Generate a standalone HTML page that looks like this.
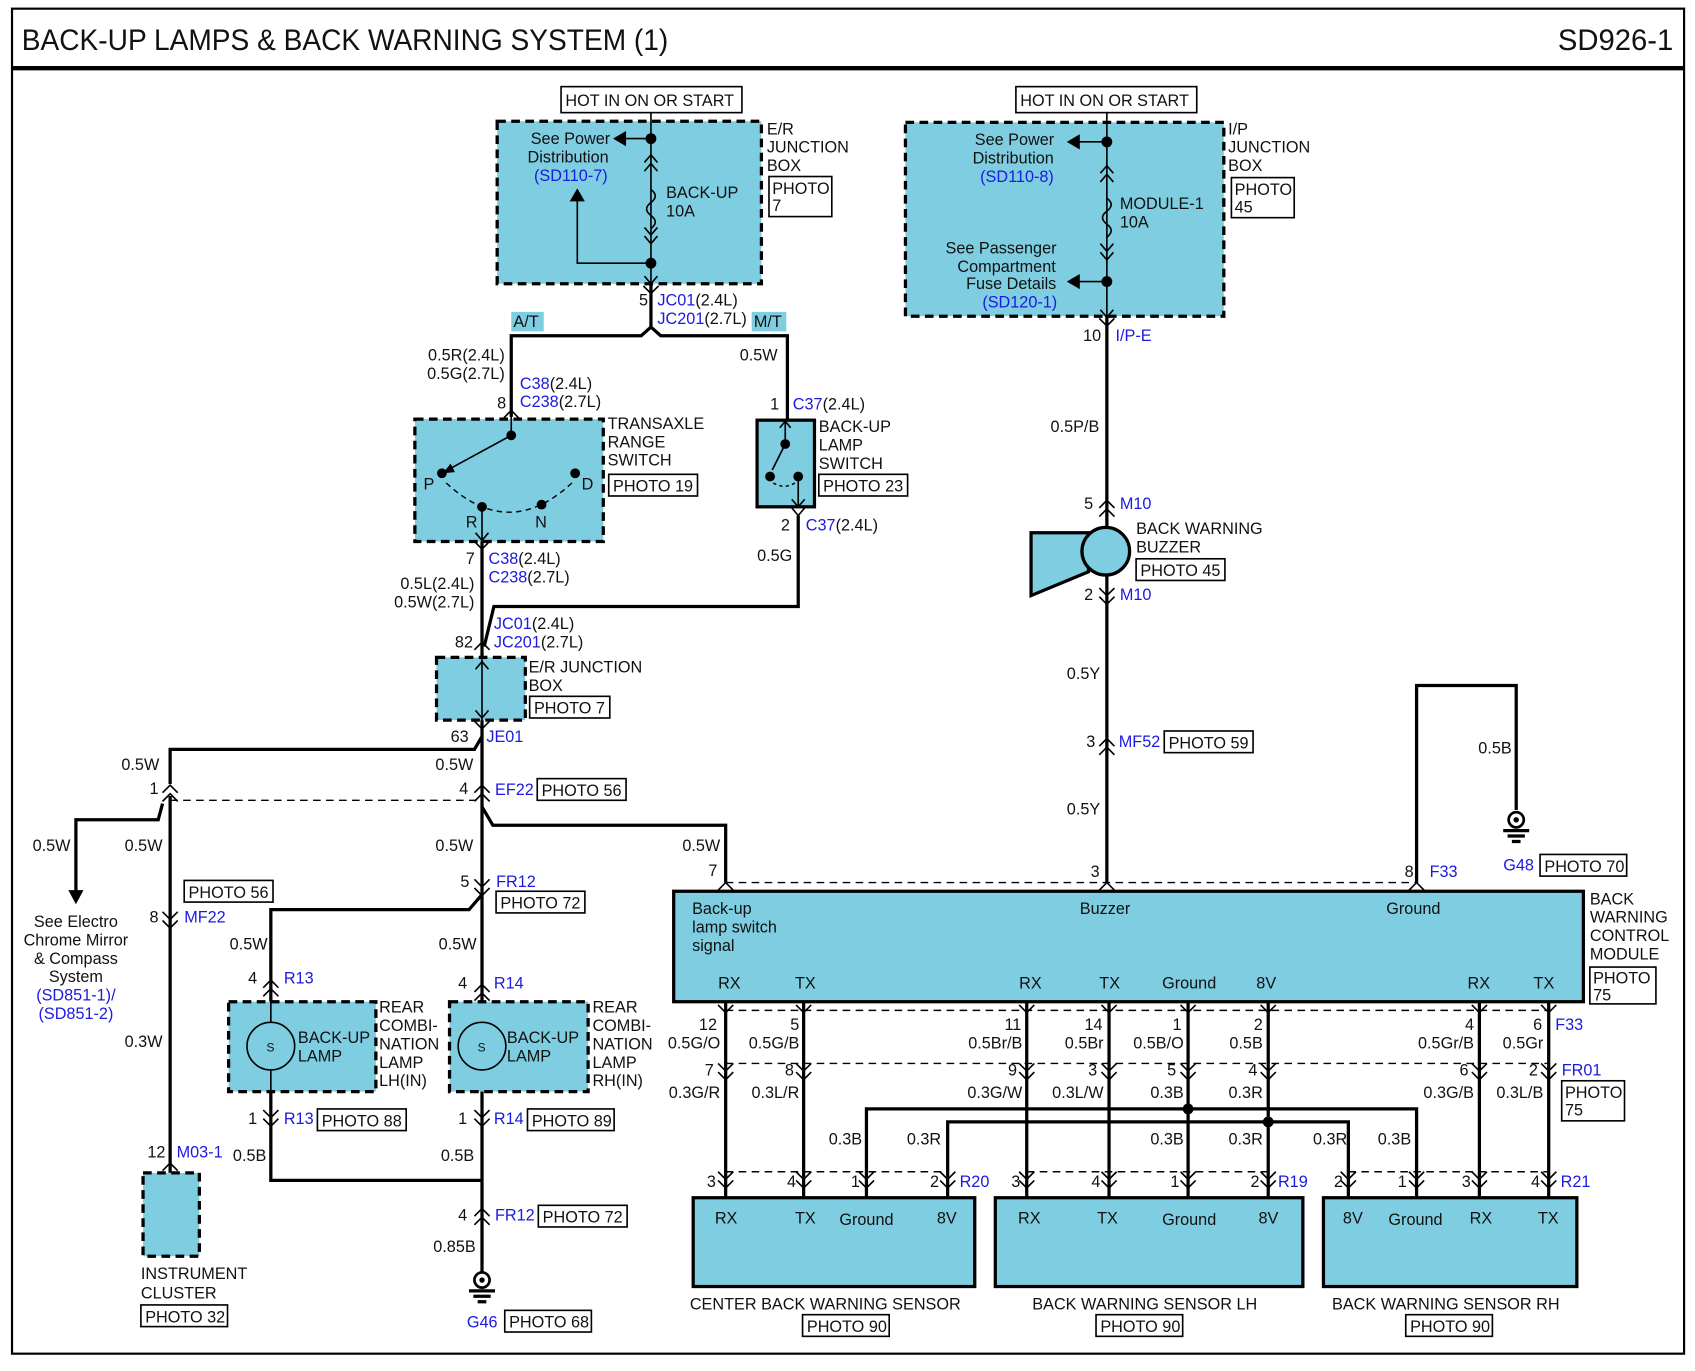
<!DOCTYPE html>
<html><head><meta charset="utf-8"><style>
html,body{margin:0;padding:0;background:#fff}
svg{display:block}
text{font-family:"Liberation Sans",sans-serif;font-size:15px;fill:#111}
.b{fill:#1a1ae0}
.w{stroke:#000;stroke-width:3;fill:none}
.t{stroke:#000;stroke-width:1.5;fill:none}
.d{stroke:#000;stroke-width:1.3;fill:none;stroke-dasharray:7 5}
.box{fill:#7ecde0;stroke:#000;stroke-width:3;stroke-dasharray:8 5}
.sb{fill:#7ecde0;stroke:#000;stroke-width:3}
.p{fill:#fff;stroke:#000;stroke-width:1.5}
.c{stroke:#000;stroke-width:1.5;fill:none}
</style></head><body>
<svg width="1695" height="1371" viewBox="0 0 1565 1266" xmlns="http://www.w3.org/2000/svg">
<rect x="11" y="8" width="1544" height="1242" fill="none" stroke="#000" stroke-width="2"/>
<line x1="11" y1="63" x2="1555" y2="63" stroke="#000" stroke-width="4"/>
<text x="20" y="46" style="font-size:27px" textLength="597" lengthAdjust="spacingAndGlyphs">BACK-UP LAMPS &amp; BACK WARNING SYSTEM (1)</text>
<text x="1545" y="46" text-anchor="end" style="font-size:27px">SD926-1</text>

<!-- E/R junction box top -->
<rect class="p" x="518" y="80" width="167" height="24"/><text x="522" y="98">HOT IN ON OR START</text>
<rect class="box" x="459" y="112" width="244" height="150"/>
<line class="t" x1="601" y1="104" x2="601" y2="262"/>
<path class="c" d="M601 175 q8 6 0 12 q-8 6 0 12 q8 6 0 12"/>
<circle cx="601" cy="128" r="5"/><circle cx="601" cy="243" r="5"/>
<path class="t" d="M601 128 H575"/><path d="M566 128 L578 121 L578 135Z"/>
<path class="t" d="M601 243 H533 V185"/><path d="M533 174 L526 186 L540 186Z"/>
<path class="c" d="M595 150 l6 -7 l6 7 M595 158 l6 -7 l6 7 M595 210 l6 7 l6 -7 M595 218 l6 7 l6 -7 M595 255 l6 7 l6 -7"/>
<text x="490" y="133">See Power</text><text x="487" y="150">Distribution</text><text x="493" y="167" class="b">(SD110-7)</text>
<text x="615" y="183">BACK-UP</text><text x="615" y="200">10A</text>
<text x="708" y="124">E/R</text><text x="708" y="141">JUNCTION</text><text x="708" y="158">BOX</text>
<rect class="p" x="710" y="163" width="58" height="37"/><text x="713" y="179">PHOTO</text><text x="713" y="195">7</text>

<path class="w" d="M601 262 V302 M472 385 V310 H592 L601 302 L610 310 H727 V388"/>
<path class="c" d="M594 264 l7 7 l7 -7"/>
<rect x="472" y="288" width="30" height="18" fill="#7ecde0"/><text x="474" y="302">A/T</text>
<rect x="694" y="288" width="32" height="18" fill="#7ecde0"/><text x="696" y="302">M/T</text>
<text x="590" y="282">5</text><text x="607" y="282"><tspan class="b">JC01</tspan>(2.4L)</text>
<text x="607" y="299"><tspan class="b">JC201</tspan>(2.7L)</text>
<text x="466" y="333" text-anchor="end">0.5R(2.4L)</text><text x="466" y="350" text-anchor="end">0.5G(2.7L)</text>
<text x="480" y="359"><tspan class="b">C38</tspan>(2.4L)</text><text x="459" y="377">8</text><text x="480" y="376"><tspan class="b">C238</tspan>(2.7L)</text>
<text x="683" y="333">0.5W</text>
<text x="711" y="378">1</text><text x="732" y="378"><tspan class="b">C37</tspan>(2.4L)</text>

<!-- transaxle switch -->
<rect class="box" x="383" y="387" width="174" height="113"/>
<path class="c" d="M465 386 l7 -7 l7 7"/>
<line class="t" x1="472" y1="380" x2="472" y2="402"/>
<circle cx="472" cy="402" r="4.5"/><circle cx="408" cy="437" r="4.5"/><circle cx="445" cy="468" r="4.5"/><circle cx="500" cy="466" r="4.5"/><circle cx="531" cy="437" r="4.5"/>
<line class="t" x1="472" y1="402" x2="415" y2="433"/><path d="M409 437 L416 428 L420 436Z"/>
<path class="d" style="stroke-dasharray:5 4" d="M412 446 Q470 500 528 446"/>
<line class="t" x1="445" y1="468" x2="445" y2="500"/><path class="c" d="M439 492 l6 7 l6 -7"/>
<text x="391" y="452">P</text><text x="537" y="452">D</text><text x="430" y="487">R</text><text x="494" y="487">N</text>
<text x="561" y="396">TRANSAXLE</text><text x="561" y="413">RANGE</text><text x="561" y="430">SWITCH</text>
<rect class="p" x="562" y="438" width="82" height="20"/><text x="566" y="454">PHOTO 19</text>

<!-- backup lamp switch -->
<rect class="sb" x="699" y="388" width="53" height="80"/>
<line class="t" x1="725" y1="390" x2="725" y2="410"/><circle cx="725" cy="410" r="4.5"/><circle cx="711" cy="440" r="4.5"/><circle cx="737" cy="440" r="4.5"/>
<line class="t" x1="725" y1="410" x2="713" y2="434"/>
<path class="d" style="stroke-dasharray:3 3" d="M714 446 Q724 452 734 446"/>
<line class="t" x1="737" y1="440" x2="737" y2="468"/>
<path class="c" d="M731 461 l6 7 l6 -7 M731 469 l6 7 l6 -7 M720 395 l5 -6 l5 6"/>
<text x="756" y="399">BACK-UP</text><text x="756" y="416">LAMP</text><text x="756" y="433">SWITCH</text>
<rect class="p" x="756" y="438" width="82" height="20"/><text x="760" y="454">PHOTO 23</text>
<text x="721" y="490">2</text><text x="744" y="490"><tspan class="b">C37</tspan>(2.4L)</text>
<text x="699" y="518">0.5G</text>
<path class="w" d="M737 476 V560 H456 L447 597"/>

<path class="w" d="M445 500 V607"/>
<path class="c" d="M438 500 l7 7 l7 -7 M438 600 l7 -7 l7 7"/>
<text x="430" y="521">7</text><text x="451" y="521"><tspan class="b">C38</tspan>(2.4L)</text><text x="451" y="538"><tspan class="b">C238</tspan>(2.7L)</text>
<text x="438" y="544" text-anchor="end">0.5L(2.4L)</text><text x="438" y="561" text-anchor="end">0.5W(2.7L)</text>
<text x="456" y="581"><tspan class="b">JC01</tspan>(2.4L)</text><text x="420" y="598">82</text><text x="456" y="598"><tspan class="b">JC201</tspan>(2.7L)</text>

<rect class="box" x="403" y="607" width="82" height="58"/>
<line class="t" x1="445" y1="607" x2="445" y2="665"/>
<path class="c" d="M439 618 l6 -7 l6 7 M439 656 l6 7 l6 -7 M438 666 l7 7 l7 -7"/>
<text x="488" y="621">E/R JUNCTION</text><text x="488" y="638">BOX</text>
<rect class="p" x="489" y="643" width="74" height="20"/><text x="493" y="659">PHOTO 7</text>
<text x="416" y="685">63</text><text x="449" y="685" class="b">JE01</text>

<!-- lower left wiring -->
<path class="w" d="M445 665 V1175 M157 724 V692 H438 L445 680"/>
<path class="w" d="M150 742 L146 757 H70 V825"/><path d="M70 835 L63 822 L77 822Z"/>
<path class="w" d="M157 735 V1083"/>
<path class="c" d="M150 732 l7 -7 l7 7 M150 740 l7 -7 l7 7 M438 732 l7 -7 l7 7 M438 740 l7 -7 l7 7"/>
<path class="d" d="M157 739 H445"/>
<text x="112" y="711">0.5W</text><text x="402" y="711">0.5W</text>
<text x="138" y="733">1</text><text x="424" y="733">4</text><text x="457" y="734" class="b">EF22</text>
<rect class="p" x="496" y="719" width="82" height="20"/><text x="500" y="735">PHOTO 56</text>
<path class="w" d="M445 745 L455 762 H670 V815"/>
<text x="30" y="786">0.5W</text><text x="115" y="786">0.5W</text><text x="402" y="786">0.5W</text><text x="630" y="786">0.5W</text>
<text x="654" y="809">7</text>
<rect class="p" x="170" y="813" width="82" height="20"/><text x="174" y="829">PHOTO 56</text>
<path class="c" d="M150 842 l7 7 l7 -7 M150 850 l7 7 l7 -7 M438 812 l7 7 l7 -7 M438 820 l7 7 l7 -7"/>
<text x="138" y="852">8</text><text x="170" y="852" class="b">MF22</text>
<text x="425" y="819">5</text><text x="458" y="819" class="b">FR12</text>
<rect class="p" x="458" y="823" width="82" height="20"/><text x="462" y="839">PHOTO 72</text>
<g text-anchor="middle"><text x="70" y="856">See Electro</text><text x="70" y="873">Chrome Mirror</text><text x="70" y="890">&amp; Compass</text><text x="70" y="907">System</text><text x="70" y="924" class="b">(SD851-1)/</text><text x="70" y="941" class="b">(SD851-2)</text></g>
<text x="115" y="967">0.3W</text>
<path class="w" d="M445 826 L433 840 H250 V925"/>
<text x="212" y="877">0.5W</text><text x="405" y="877">0.5W</text>
<path class="c" d="M243 912 l7 -7 l7 7 M243 920 l7 -7 l7 7 M438 916 l7 -7 l7 7 M438 924 l7 -7 l7 7"/>
<text x="229" y="908">4</text><text x="262" y="908" class="b">R13</text><text x="423" y="913">4</text><text x="456" y="913" class="b">R14</text>

<rect class="box" x="211" y="925" width="136" height="83"/>
<circle cx="250" cy="966" r="22" fill="none" stroke="#000" stroke-width="1.5"/><line class="t" x1="250" y1="925" x2="250" y2="944"/><line class="t" x1="250" y1="988" x2="250" y2="1008"/>
<text x="246" y="971" style="font-size:11px">S</text>
<text x="275" y="963">BACK-UP</text><text x="275" y="980">LAMP</text>
<text x="350" y="935">REAR</text><text x="350" y="952">COMBI-</text><text x="350" y="969">NATION</text><text x="350" y="986">LAMP</text><text x="350" y="1003">LH(IN)</text>
<rect class="box" x="415" y="925" width="128" height="83"/>
<circle cx="445" cy="966" r="22" fill="none" stroke="#000" stroke-width="1.5"/>
<text x="441" y="971" style="font-size:11px">S</text>
<text x="468" y="963">BACK-UP</text><text x="468" y="980">LAMP</text>
<text x="547" y="935">REAR</text><text x="547" y="952">COMBI-</text><text x="547" y="969">NATION</text><text x="547" y="986">LAMP</text><text x="547" y="1003">RH(IN)</text>
<path class="c" d="M243 1025 l7 7 l7 -7 M243 1033 l7 7 l7 -7 M438 1025 l7 7 l7 -7 M438 1033 l7 7 l7 -7"/>
<text x="229" y="1038">1</text><text x="262" y="1038" class="b">R13</text>
<rect class="p" x="293" y="1024" width="82" height="20"/><text x="297" y="1040">PHOTO 88</text>
<text x="423" y="1038">1</text><text x="456" y="1038" class="b">R14</text>
<rect class="p" x="487" y="1024" width="80" height="20"/><text x="491" y="1040">PHOTO 89</text>
<path class="w" d="M250 1008 V1090 H445"/>
<text x="215" y="1072">0.5B</text><text x="407" y="1072">0.5B</text>
<text x="136" y="1069">12</text><text x="163" y="1069" class="b">M03-1</text>
<path class="c" d="M150 1081 l7 -7 l7 7"/>
<rect class="box" x="132" y="1083" width="52" height="77"/>
<text x="130" y="1181">INSTRUMENT</text><text x="130" y="1199">CLUSTER</text>
<rect class="p" x="130" y="1205" width="80" height="20"/><text x="134" y="1221">PHOTO 32</text>
<path class="c" d="M438 1123 l7 -7 l7 7 M438 1131 l7 -7 l7 7"/>
<text x="423" y="1127">4</text><text x="457" y="1127" class="b">FR12</text>
<rect class="p" x="497" y="1113" width="82" height="20"/><text x="501" y="1129">PHOTO 72</text>
<text x="400" y="1156">0.85B</text>
<circle cx="445" cy="1182" r="7" fill="none" stroke="#000" stroke-width="2.5"/><circle cx="445" cy="1182" r="2.5"/>
<path class="w" d="M433 1192 H457 M437 1197 H453 M441 1202 H449"/>
<text x="431" y="1226" class="b">G46</text>
<rect class="p" x="466" y="1210" width="80" height="20"/><text x="470" y="1226">PHOTO 68</text>

<!-- I/P junction box -->
<rect class="p" x="938" y="80" width="167" height="24"/><text x="942" y="98">HOT IN ON OR START</text>
<rect class="box" x="836" y="113" width="294" height="179"/>
<line class="t" x1="1022" y1="104" x2="1022" y2="292"/>
<path class="c" d="M1022 183 q8 6 0 12 q-8 6 0 12 q8 6 0 12"/>
<circle cx="1022" cy="131" r="5"/><circle cx="1022" cy="260" r="5"/>
<path class="t" d="M1022 131 H995 M1022 260 H995"/><path d="M985 131 L997 124 L997 138Z M985 260 L997 253 L997 267Z"/>
<path class="c" d="M1016 160 l6 -7 l6 7 M1016 168 l6 -7 l6 7 M1016 225 l6 7 l6 -7 M1016 233 l6 7 l6 -7 M1016 286 l6 7 l6 -7"/>
<text x="900" y="134">See Power</text><text x="898" y="151">Distribution</text><text x="905" y="168" class="b">(SD110-8)</text>
<text x="1034" y="193">MODULE-1</text><text x="1034" y="210">10A</text>
<text x="873" y="234">See Passenger</text><text x="884" y="251">Compartment</text><text x="892" y="267">Fuse Details</text><text x="907" y="284" class="b">(SD120-1)</text>
<text x="1134" y="124">I/P</text><text x="1134" y="141">JUNCTION</text><text x="1134" y="158">BOX</text>
<rect class="p" x="1137" y="164" width="58" height="37"/><text x="1140" y="180">PHOTO</text><text x="1140" y="196">45</text>
<path class="w" d="M1022 292 V487 M1022 531 V815"/>
<path class="c" d="M1015 294 l7 7 l7 -7"/>
<text x="1000" y="315">10</text><text x="1030" y="315" class="b">I/P-E</text>
<text x="970" y="399">0.5P/B</text>
<path class="c" d="M1015 469 l7 -7 l7 7 M1015 477 l7 -7 l7 7 M1015 543 l7 7 l7 -7 M1015 551 l7 7 l7 -7"/>
<text x="1001" y="470">5</text><text x="1034" y="470" class="b">M10</text>
<path d="M952 492 L1005 492 L1005 528 L952 550Z" fill="#7ecde0" stroke="#000" stroke-width="3"/>
<circle cx="1021" cy="509" r="22" fill="#7ecde0" stroke="#000" stroke-width="3"/>
<text x="1049" y="493">BACK WARNING</text><text x="1049" y="510">BUZZER</text>
<rect class="p" x="1049" y="516" width="82" height="20"/><text x="1053" y="532">PHOTO 45</text>
<text x="1001" y="554">2</text><text x="1034" y="554" class="b">M10</text>
<text x="985" y="627">0.5Y</text>
<path class="c" d="M1015 689 l7 -7 l7 7 M1015 697 l7 -7 l7 7"/>
<text x="1003" y="690">3</text><text x="1033" y="690" class="b">MF52</text>
<rect class="p" x="1075" y="675" width="82" height="20"/><text x="1079" y="691">PHOTO 59</text>
<text x="985" y="752">0.5Y</text>

<path class="w" d="M1308 815 V633 H1400 V748"/>
<text x="1365" y="696">0.5B</text>
<circle cx="1400" cy="757" r="7" fill="none" stroke="#000" stroke-width="2.5"/><circle cx="1400" cy="757" r="2.5"/>
<path class="w" d="M1388 767 H1412 M1392 772 H1408 M1396 777 H1404"/>
<text x="1388" y="804" class="b">G48</text>
<rect class="p" x="1422" y="789" width="80" height="20"/><text x="1426" y="805">PHOTO 70</text>
<text x="1007" y="810">3</text><text x="1297" y="810">8</text><text x="1320" y="810" class="b">F33</text>
<path class="d" d="M670 815 H1308"/>
<path class="c" d="M663 822 l7 -7 l7 7 M1015 822 l7 -7 l7 7 M1301 822 l7 -7 l7 7"/>

<!-- control module -->
<rect class="sb" x="622" y="823" width="840" height="102"/>
<text x="639" y="844">Back-up</text><text x="639" y="861">lamp switch</text><text x="639" y="878">signal</text>
<text x="997" y="844">Buzzer</text><text x="1280" y="844">Ground</text>
<text x="663" y="913">RX</text><text x="734" y="913">TX</text><text x="941" y="913">RX</text><text x="1015" y="913">TX</text><text x="1073" y="913">Ground</text><text x="1160" y="913">8V</text><text x="1355" y="913">RX</text><text x="1416" y="913">TX</text>
<text x="1468" y="835">BACK</text><text x="1468" y="852">WARNING</text><text x="1468" y="869">CONTROL</text><text x="1468" y="886">MODULE</text>
<rect class="p" x="1468" y="893" width="61" height="34"/><text x="1471" y="908">PHOTO</text><text x="1471" y="924">75</text>

<path class="w" d="M670 925 V1105 M742 925 V1105 M948 925 V1105 M1024 925 V1105 M1097 925 V1105 M1171 925 V1105 M1366 925 V1105 M1430 925 V1105"/>
<path class="d" d="M670 933 H1430 M670 982 H1430 M670 1082 H875 M948 1082 H1171 M1245 1082 H1430"/>
<g class="c">
<path d="M663 928 l7 7 l7 -7 M735 928 l7 7 l7 -7 M941 928 l7 7 l7 -7 M1017 928 l7 7 l7 -7 M1090 928 l7 7 l7 -7 M1164 928 l7 7 l7 -7 M1359 928 l7 7 l7 -7 M1423 928 l7 7 l7 -7"/>
<path d="M663 982 l7 7 l7 -7 M663 990 l7 7 l7 -7 M735 982 l7 7 l7 -7 M735 990 l7 7 l7 -7 M941 982 l7 7 l7 -7 M941 990 l7 7 l7 -7 M1017 982 l7 7 l7 -7 M1017 990 l7 7 l7 -7 M1090 982 l7 7 l7 -7 M1090 990 l7 7 l7 -7 M1164 982 l7 7 l7 -7 M1164 990 l7 7 l7 -7 M1359 982 l7 7 l7 -7 M1359 990 l7 7 l7 -7 M1423 982 l7 7 l7 -7 M1423 990 l7 7 l7 -7"/>
<path d="M663 1082 l7 7 l7 -7 M663 1090 l7 7 l7 -7 M735 1082 l7 7 l7 -7 M735 1090 l7 7 l7 -7 M793 1082 l7 7 l7 -7 M793 1090 l7 7 l7 -7 M868 1082 l7 7 l7 -7 M868 1090 l7 7 l7 -7 M941 1082 l7 7 l7 -7 M941 1090 l7 7 l7 -7 M1017 1082 l7 7 l7 -7 M1017 1090 l7 7 l7 -7 M1090 1082 l7 7 l7 -7 M1090 1090 l7 7 l7 -7 M1164 1082 l7 7 l7 -7 M1164 1090 l7 7 l7 -7 M1238 1082 l7 7 l7 -7 M1238 1090 l7 7 l7 -7 M1301 1082 l7 7 l7 -7 M1301 1090 l7 7 l7 -7 M1359 1082 l7 7 l7 -7 M1359 1090 l7 7 l7 -7 M1423 1082 l7 7 l7 -7 M1423 1090 l7 7 l7 -7"/>
</g>
<path class="w" d="M800 1105 V1024 H1308 V1105 M875 1105 V1036 H1245 V1105"/>
<circle cx="1097" cy="1024" r="5"/><circle cx="1171" cy="1036" r="5"/>
<g text-anchor="end">
<text x="662" y="951">12</text><text x="738" y="951">5</text><text x="943" y="951">11</text><text x="1018" y="951">14</text><text x="1091" y="951">1</text><text x="1166" y="951">2</text><text x="1361" y="951">4</text><text x="1424" y="951">6</text>
<text x="665" y="968">0.5G/O</text><text x="738" y="968">0.5G/B</text><text x="944" y="968">0.5Br/B</text><text x="1019" y="968">0.5Br</text><text x="1093" y="968">0.5B/O</text><text x="1166" y="968">0.5B</text><text x="1361" y="968">0.5Gr/B</text><text x="1425" y="968">0.5Gr</text>
<text x="659" y="993">7</text><text x="733" y="993">8</text><text x="939" y="993">9</text><text x="1013" y="993">3</text><text x="1086" y="993">5</text><text x="1161" y="993">4</text><text x="1356" y="993">6</text><text x="1420" y="993">2</text>
<text x="665" y="1014">0.3G/R</text><text x="738" y="1014">0.3L/R</text><text x="944" y="1014">0.3G/W</text><text x="1019" y="1014">0.3L/W</text><text x="1093" y="1014">0.3B</text><text x="1166" y="1014">0.3R</text><text x="1361" y="1014">0.3G/B</text><text x="1425" y="1014">0.3L/B</text>
<text x="796" y="1057">0.3B</text><text x="869" y="1057">0.3R</text><text x="1093" y="1057">0.3B</text><text x="1166" y="1057">0.3R</text><text x="1244" y="1057">0.3R</text><text x="1303" y="1057">0.3B</text>
<text x="661" y="1096">3</text><text x="735" y="1096">4</text><text x="794" y="1096">1</text><text x="867" y="1096">2</text><text x="942" y="1096">3</text><text x="1016" y="1096">4</text><text x="1089" y="1096">1</text><text x="1163" y="1096">2</text><text x="1240" y="1096">2</text><text x="1299" y="1096">1</text><text x="1358" y="1096">3</text><text x="1422" y="1096">4</text>
</g>
<text x="1436" y="951" class="b">F33</text><text x="1442" y="993" class="b">FR01</text>
<rect class="p" x="1442" y="998" width="58" height="37"/><text x="1445" y="1014">PHOTO</text><text x="1445" y="1030">75</text>
<text x="886" y="1096" class="b">R20</text><text x="1180" y="1096" class="b">R19</text><text x="1441" y="1096" class="b">R21</text>

<rect class="sb" x="640" y="1106" width="260" height="82"/>
<rect class="sb" x="919" y="1106" width="284" height="82"/>
<rect class="sb" x="1222" y="1106" width="234" height="82"/>
<text x="660" y="1130">RX</text><text x="734" y="1130">TX</text><text x="775" y="1131">Ground</text><text x="865" y="1130">8V</text>
<text x="940" y="1130">RX</text><text x="1013" y="1130">TX</text><text x="1073" y="1131">Ground</text><text x="1162" y="1130">8V</text>
<text x="1240" y="1130">8V</text><text x="1282" y="1131">Ground</text><text x="1357" y="1130">RX</text><text x="1420" y="1130">TX</text>
<g text-anchor="middle">
<text x="762" y="1209">CENTER BACK WARNING SENSOR</text><text x="1057" y="1209">BACK WARNING SENSOR LH</text><text x="1335" y="1209">BACK WARNING SENSOR RH</text>
</g>
<rect class="p" x="741" y="1214" width="80" height="20"/><text x="745" y="1230">PHOTO 90</text>
<rect class="p" x="1012" y="1214" width="80" height="20"/><text x="1016" y="1230">PHOTO 90</text>
<rect class="p" x="1298" y="1214" width="80" height="20"/><text x="1302" y="1230">PHOTO 90</text>
</svg>
</body></html>
